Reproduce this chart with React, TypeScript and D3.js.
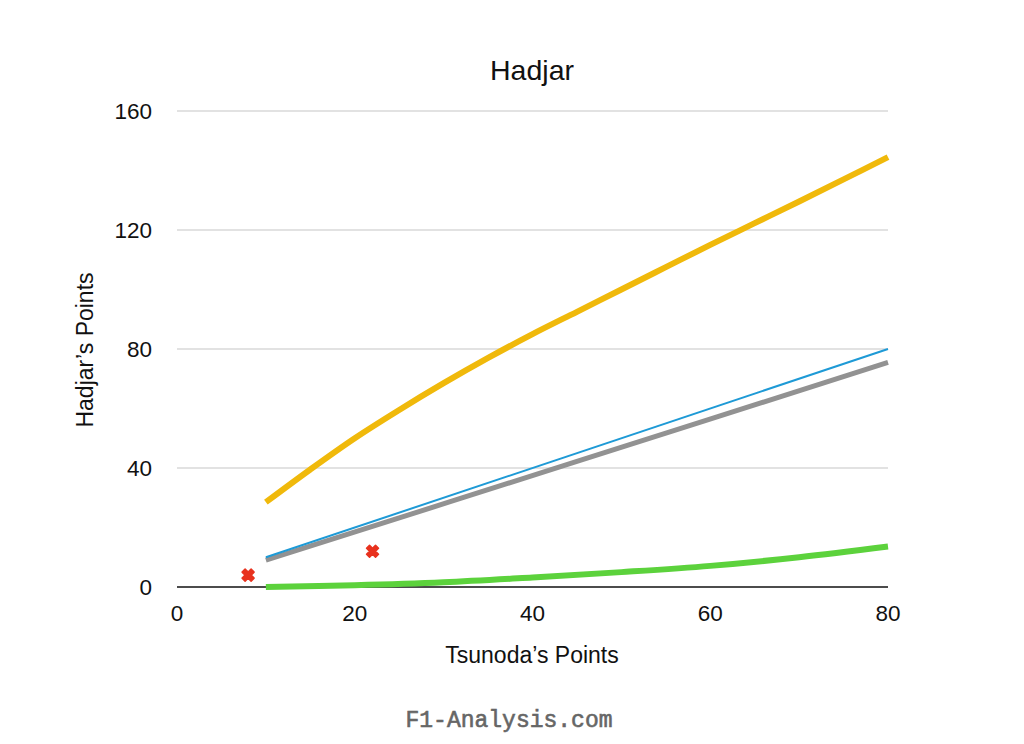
import React from "react";
import * as d3 from "d3";

const chartTitle = "Hadjar";
const xTitle = "Tsunoda\u2019s Points";
const yTitle = "Hadjar\u2019s Points";
const watermark = "F1-Analysis.com";

const xTicks = [0, 20, 40, 60, 80];
const yTicks = [0, 40, 80, 120, 160];

const yellowX = [10, 15, 20, 25, 30, 35, 40, 45, 50, 55, 60, 65, 70, 75, 80];
const yellowY = [28.5, 39.5, 50, 59.5, 68.5, 77, 85, 92.5, 100, 107.5, 115, 122.3, 129.6, 137, 144.5];

const blueX = [10, 80];
const blueY = [10, 80];

const grayX = [10, 45, 80];
const grayY = [9, 42.2, 75.5];

const greenX = [10, 20, 30, 40, 50, 60, 70, 80];
const greenY = [0, 0.6, 1.6, 3.2, 5.0, 7.1, 10.0, 13.6];

const pointsX = [8, 22];
const pointsY = [4, 12];

const FONT = "'Liberation Sans', Arial, Helvetica, sans-serif";

export default function App() {
  const W = 1024;
  const H = 744;
  const x = d3.scaleLinear().domain([0, 80]).range([177, 888]);
  const y = d3.scaleLinear().domain([0, 160]).range([587, 111]);

  const mk = (xs: number[], ys: number[]) =>
    d3
      .line<number>()
      .x((_, i) => x(xs[i]))
      .y((_, i) => y(ys[i]))
      .curve(d3.curveCatmullRom.alpha(0.5))(xs.map((_, i) => i)) || "";

  const series = [
    { xs: yellowX, ys: yellowY, color: "#F0B90B", w: 6 },
    { xs: greenX, ys: greenY, color: "#5CD23C", w: 6 },
    { xs: grayX, ys: grayY, color: "#929292", w: 5 },
    { xs: blueX, ys: blueY, color: "#1E9AD6", w: 2 },
  ];

  const cross = d3.symbol().type(d3.symbolCross).size(90)() || "";

  return (
    <svg
      width={W}
      height={H}
      style={{ position: "absolute", left: 0, top: 0, background: "#fff" }}
    >
      <rect width={W} height={H} fill="#fff" />
      {yTicks
        .filter((t) => t !== 0)
        .map((t) => (
          <line
            key={"g" + t}
            x1={x(0)}
            x2={x(80)}
            y1={y(t)}
            y2={y(t)}
            stroke="#c6c6c6"
            strokeWidth={1.2}
          />
        ))}
      <line x1={x(0)} x2={x(80)} y1={y(0)} y2={y(0)} stroke="#111" strokeWidth={1.6} />
      {yTicks.map((t) => (
        <text
          key={"yt" + t}
          x={152}
          y={y(t) + 8}
          textAnchor="end"
          fontFamily={FONT}
          fontSize={22.5}
          fill="#111"
        >
          {t}
        </text>
      ))}
      {xTicks.map((t) => (
        <text
          key={"xt" + t}
          x={x(t)}
          y={621}
          textAnchor="middle"
          fontFamily={FONT}
          fontSize={22.5}
          fill="#111"
        >
          {t}
        </text>
      ))}
      {series.map((s, i) => (
        <path
          key={"s" + i}
          d={mk(s.xs, s.ys)}
          fill="none"
          stroke={s.color}
          strokeWidth={s.w}
          strokeLinecap="butt"
          strokeLinejoin="round"
        />
      ))}
      {pointsX.map((px, i) => (
        <path
          key={"p" + i}
          d={cross}
          transform={`translate(${x(px)},${y(pointsY[i])}) rotate(45)`}
          fill="#E8321E"
          stroke="#E8321E"
          strokeWidth={1.5}
          strokeLinejoin="round"
        />
      ))}
      <text x={532} y={80} textAnchor="middle" fontFamily={FONT} fontSize={28.5} fill="#111">
        {chartTitle}
      </text>
      <text x={532} y={663} textAnchor="middle" fontFamily={FONT} fontSize={23} fill="#111">
        {xTitle}
      </text>
      <text
        transform={`translate(93,350) rotate(-90)`}
        textAnchor="middle"
        fontFamily={FONT}
        fontSize={23}
        fill="#111"
      >
        {yTitle}
      </text>
      <text
        x={509}
        y={727}
        textAnchor="middle"
        fontFamily="'Liberation Mono', 'DejaVu Sans Mono', monospace"
        fontSize={23}
        fill="#666"
        stroke="#666"
        strokeWidth={0.6}
      >
        {watermark}
      </text>
    </svg>
  );
}
